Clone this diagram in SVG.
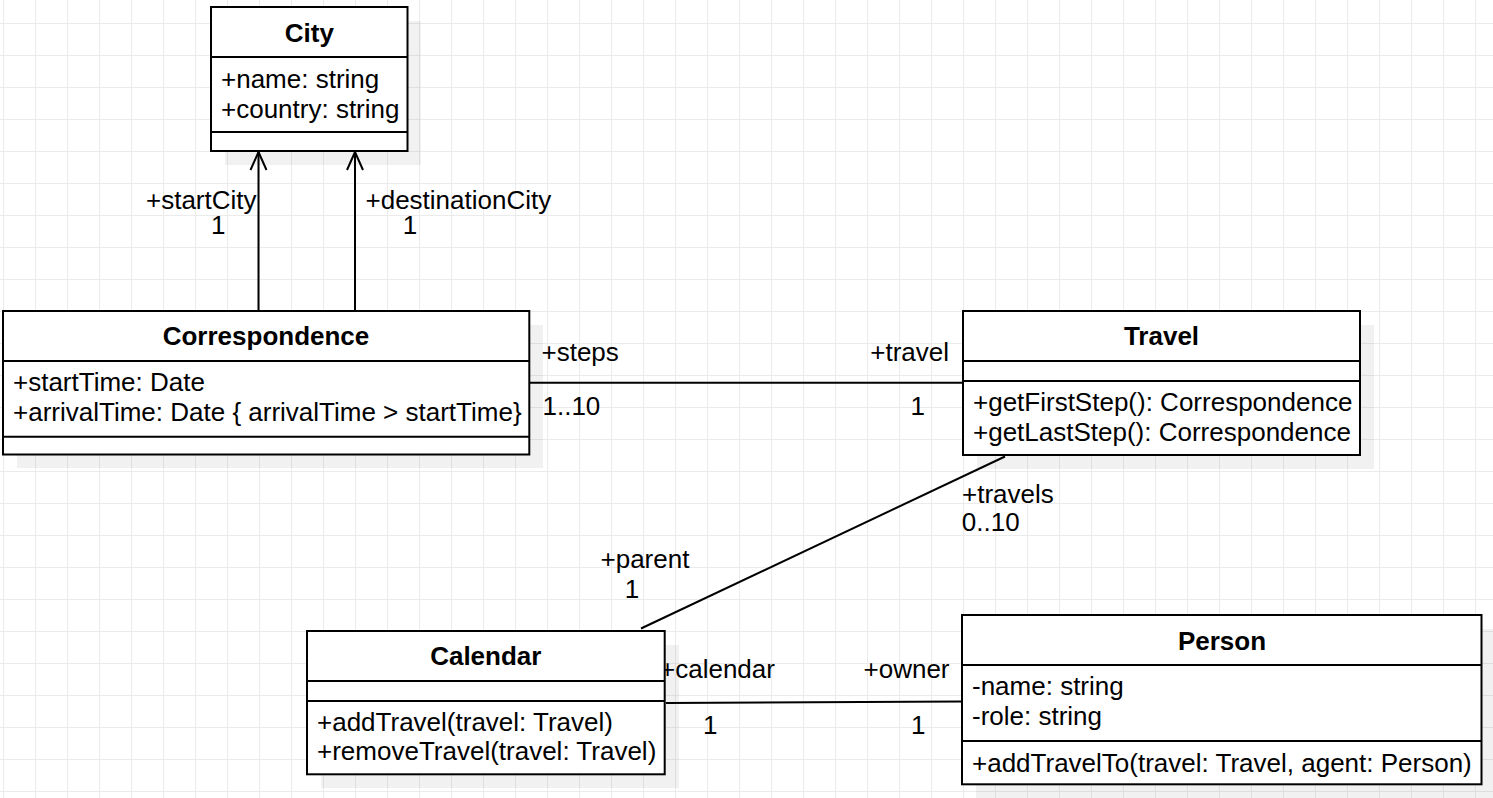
<svg xmlns="http://www.w3.org/2000/svg" width="1493" height="798" viewBox="0 0 1493 798">
  <style>
    text { font-family: "Liberation Sans", Arial, Helvetica, sans-serif; font-size: 26px; fill: #000; }
    .title { font-weight: bold; text-anchor: middle; }
    .box { fill: #fff; stroke: #000; stroke-width: 2; }
    .div { stroke: #000; stroke-width: 2; fill: none; }
    .shadow { fill: #000; fill-opacity: 0.055; }
    .conn { stroke: #000; stroke-width: 2; fill: none; }
    .end { text-anchor: end; }
    .mid { text-anchor: middle; }
  </style>
  <defs>
    <pattern id="grid" x="3" y="23" width="32" height="32" patternUnits="userSpaceOnUse">
      <path d="M0.5 0 V32 M0 0.5 H32" stroke="#ebebeb" stroke-width="1" fill="none"/>
    </pattern>
  </defs>
  <rect x="0" y="0" width="1493" height="798" fill="#fff"/>
  <rect x="0" y="0" width="1493" height="798" fill="url(#grid)"/>

  <!-- shadows -->
  <g id="shadows">
    <rect class="shadow" x="225" y="21" width="196" height="144"/>
    <rect class="shadow" x="17" y="325" width="526" height="143"/>
    <rect class="shadow" x="977" y="325" width="397" height="144"/>
    <rect class="shadow" x="321" y="645" width="358" height="143"/>
    <rect class="shadow" x="976" y="629" width="519" height="169"/>
  </g>

  <g id="connectors">
    <line class="conn" x1="258.5" y1="311" x2="258.5" y2="152"/>
    <polyline class="conn" points="250.5,170 258.5,152 266.5,170"/>
    <line class="conn" x1="355" y1="311" x2="355" y2="152"/>
    <polyline class="conn" points="347,170 355,152 363,170"/>
    <line class="conn" x1="529" y1="382.7" x2="963" y2="382.7"/>
    <line class="conn" x1="641" y1="628.5" x2="1005" y2="456.5"/>
    <line class="conn" x1="666" y1="703" x2="962" y2="701.5"/>

    <text class="end" x="256.5" y="209">+startCity</text>
    <text class="mid" x="218.3" y="234.3">1</text>
    <text x="365.5" y="209">+destinationCity</text>
    <text class="mid" x="410" y="234">1</text>
    <text x="541.5" y="360.7">+steps</text>
    <text x="542.5" y="415">1..10</text>
    <text class="end" x="949" y="360.7">+travel</text>
    <text class="mid" x="917.7" y="415">1</text>
    <text x="962" y="502.7">+travels</text>
    <text x="961.8" y="530.7">0..10</text>
    <text x="600.5" y="568.3">+parent</text>
    <text class="mid" x="632" y="598.3">1</text>
    <text x="660" y="678.3">+calendar</text>
    <text class="end" x="949.5" y="678.3">+owner</text>
    <text class="mid" x="710.3" y="733.5">1</text>
    <text class="mid" x="918.3" y="733.5">1</text>
  </g>

  <g id="City">
    <rect class="box" x="211" y="7" width="196.5" height="144"/>
    <line class="div" x1="211" y1="57" x2="407.5" y2="57"/>
    <line class="div" x1="211" y1="132" x2="407.5" y2="132"/>
    <text class="title" x="309.3" y="41.5">City</text>
    <text x="221" y="87.5">+name: string</text>
    <text x="221" y="117.5">+country: string</text>
  </g>

  <g id="Correspondence">
    <rect class="box" x="3" y="311" width="526.3" height="143.5"/>
    <line class="div" x1="3" y1="361" x2="529.3" y2="361"/>
    <line class="div" x1="3" y1="436.7" x2="529.3" y2="436.7"/>
    <text class="title" x="266" y="345">Correspondence</text>
    <text x="13" y="390.5">+startTime: Date</text>
    <text x="13" y="420.5">+arrivalTime: Date { arrivalTime &gt; startTime}</text>
  </g>

  <g id="Travel">
    <rect class="box" x="963" y="311" width="397" height="144"/>
    <line class="div" x1="963" y1="361" x2="1360" y2="361"/>
    <line class="div" x1="963" y1="381" x2="1360" y2="381"/>
    <text class="title" x="1161.5" y="345">Travel</text>
    <text x="973" y="410.5">+getFirstStep(): Correspondence</text>
    <text x="973" y="440.5">+getLastStep(): Correspondence</text>
  </g>

  <g id="Calendar">
    <rect class="box" x="307" y="631" width="357.7" height="143.3"/>
    <line class="div" x1="307" y1="681" x2="664.7" y2="681"/>
    <line class="div" x1="307" y1="701" x2="664.7" y2="701"/>
    <text class="title" x="485.8" y="664.5">Calendar</text>
    <text x="317" y="730.5">+addTravel(travel: Travel)</text>
    <text x="317" y="760">+removeTravel(travel: Travel)</text>
  </g>

  <g id="Person">
    <rect class="box" x="962" y="615" width="519.5" height="169.3"/>
    <line class="div" x1="962" y1="665" x2="1481.5" y2="665"/>
    <line class="div" x1="962" y1="741" x2="1481.5" y2="741"/>
    <text class="title" x="1222" y="649.5">Person</text>
    <text x="972" y="695">-name: string</text>
    <text x="972" y="725">-role: string</text>
    <text x="972" y="771.5">+addTravelTo(travel: Travel, agent: Person)</text>
  </g>
</svg>
